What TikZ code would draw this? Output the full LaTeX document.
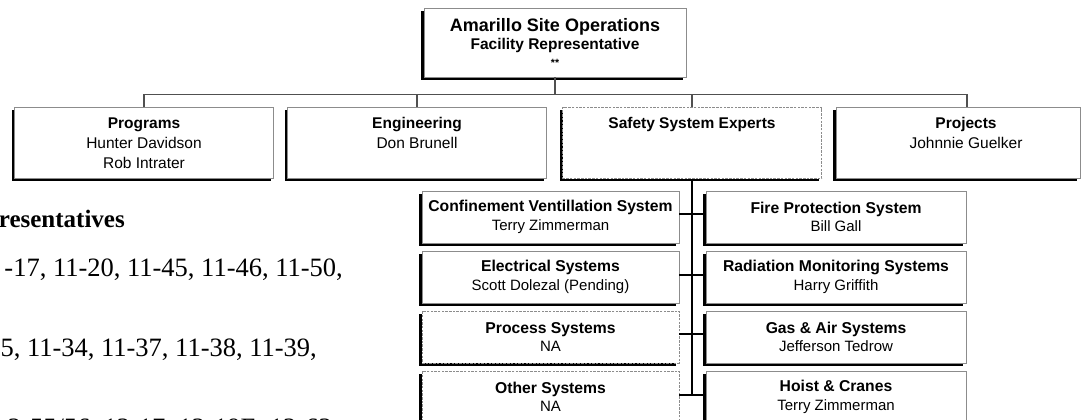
\documentclass[tikz,border=0pt]{standalone}
\usepackage{fontspec}
\setmainfont{Liberation Sans}
\newfontfamily\serifrm{Liberation Serif}
\usetikzlibrary{shadows}
\definecolor{frame}{HTML}{8C8C8C}
\definecolor{connc}{HTML}{505050}
\newcommand\boxtitle[1]{{\fontsize{15.7}{18.5}\selectfont\bfseries #1}}
\tikzset{
  orgbox/.style={draw=frame, line width=0.9pt, fill=white, inner sep=0pt, align=center,
    general shadow={fill=black, shadow xshift=-2.8pt, shadow yshift=-2.8pt}},
  dashedbox/.style={dash pattern=on 2.5pt off 1.2pt},
  toplevel/.style={orgbox, minimum width=262pt, minimum height=69pt, font=\bfseries\fontsize{15.5}{19}\selectfont},
  midbox/.style={orgbox, minimum width=259pt, minimum height=71pt, font=\fontsize{15.5}{20}\selectfont},
  rowbox/.style={orgbox, minimum height=52pt, font=\fontsize{15}{18.5}\selectfont},
  leftbox/.style={rowbox, minimum width=257pt},
  rightbox/.style={rowbox, minimum width=260pt},
  conn/.style={draw=connc, line width=1.1pt},
  spine/.style={draw=black, line width=1.2pt},
  sidetext/.style={font=\serifrm\fontsize{26.5}{30}\selectfont, inner sep=0pt, anchor=base east},
}
\begin{document}
\begin{tikzpicture}[x=1pt,y=-1pt]
\useasboundingbox (0,0) rectangle (1081,420);
\clip (0,0) rectangle (1081,420);

% top
\node[toplevel] (aso) at (555,42.5) {{\fontsize{18}{20}\selectfont Amarillo Site Operations}\\[-1pt]
  Facility Representative\\[-2pt]
  {\fontsize{10.5}{12}\selectfont **}};
\path (aso.north west) ++(0,-2) coordinate (asoTL);

% level 2
\node[midbox] (prog) at (144,143) {\textbf{Programs}\\Hunter Davidson\\Rob Intrater};
\node[midbox] (eng) at (417,143) {\textbf{Engineering}\\Don Brunell\\\phantom{R}};
\node[midbox, dashedbox] (sse) at (692,143) {\textbf{Safety System Experts}\\\phantom{R}\\\phantom{R}};
\node[midbox, minimum width=244pt] (proj) at (958,143) {\hspace*{16pt}\textbf{Projects}\\\hspace*{16pt}Johnnie Guelker\\\phantom{R}};

\coordinate (bus) at (555,94.5);
\draw[conn] (aso.south) -- (bus);
\draw[conn] (prog.north) -- (prog.north |- bus) -- ([xshift=9pt]proj.north |- bus) -- ([xshift=9pt]proj.north);
\draw[conn] (eng.north) -- (eng.north |- bus);
\draw[conn] (sse.north) -- (sse.north |- bus);

% safety systems
\node[leftbox] (cvs) at (550.5,217) {\boxtitle{Confinement Ventillation System}\\Terry Zimmerman};
\node[leftbox] (es) at (550.5,277) {\boxtitle{Electrical Systems}\\Scott Dolezal (Pending)};
\node[leftbox, dashedbox] (ps) at (550.5,337) {\boxtitle{Process Systems}\\NA};
\node[leftbox, dashedbox] (os) at (550.5,397) {\boxtitle{Other Systems}\\NA};
\node[rightbox] (fps) at (836,217) {\boxtitle{Fire Protection System}\\Bill Gall};
\node[rightbox] (rms) at (836,277) {\boxtitle{Radiation Monitoring Systems}\\Harry Griffith};
\node[rightbox] (gas) at (836,337) {\boxtitle{Gas \& Air Systems}\\Jefferson Tedrow};
\node[rightbox] (hc) at (836,397) {\boxtitle{Hoist \& Cranes}\\Terry Zimmerman};

\coordinate (spineEnd) at (692,395);
\draw[spine] (sse.south) -- (spineEnd);
\draw[spine] ([yshift=3pt]cvs.east) -- ([yshift=3pt]fps.west);
\draw[spine] ([yshift=2pt]es.east) -- ([yshift=2pt]rms.west);
\draw[spine] ([yshift=3pt]ps.east) -- ([yshift=3pt]gas.west);
\draw[spine] ([yshift=2pt]os.east) -- ([yshift=2pt]hc.west);

% side text
\node[sidetext, font=\serifrm\bfseries\fontsize{25}{30}\selectfont] (hdr) at (125,227) {resentatives};
\node[sidetext] (t1) at (343,276) {-17, 11-20, 11-45, 11-46, 11-50,};
\node[sidetext] (t2) at (317,356) {5, 11-34, 11-37, 11-38, 11-39,};
\node[sidetext] (t3) at (332,436) {2-55/56, 12-17, 12-19E, 12-63};
\end{tikzpicture}
\end{document}
